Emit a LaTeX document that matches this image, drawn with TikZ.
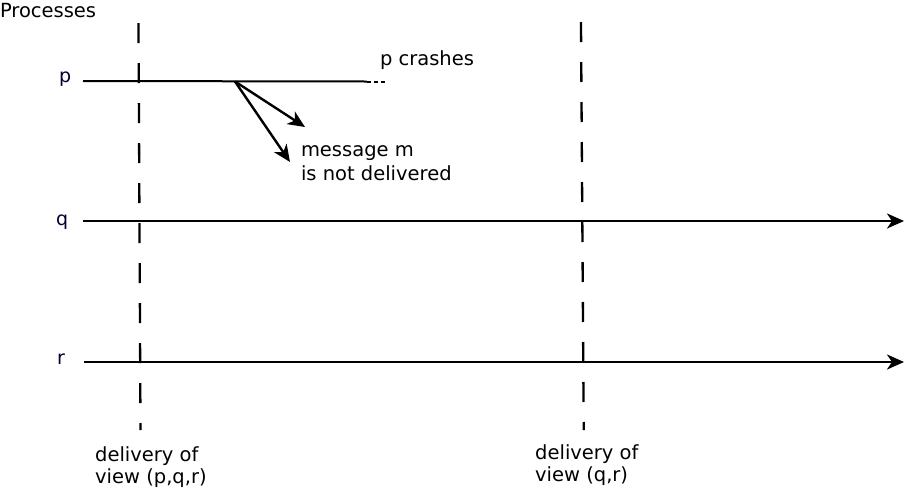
\documentclass[tikz,border=0pt]{standalone}
\usepackage{fontspec}
\setmainfont{DejaVu Sans}
\usetikzlibrary{arrows.meta}
\begin{document}
\begin{tikzpicture}[x=1pt,y=-1pt,
  lbl/.style={anchor=base west,inner sep=0pt,outer sep=0pt,font=\fontsize{19.5}{24}\selectfont},
  proc/.style={anchor=base west,inner sep=0pt,font=\fontsize{19}{24}\selectfont,text={rgb,255:red,0;green,0;blue,50}},
  bot/.style={anchor=base west,inner sep=0pt,align=left,font=\fontsize{19.5}{21.5}\selectfont},
  timeline/.style={line width=2.6pt,-{Stealth[length=17pt,width=15pt,inset=5pt]}},
  msg/.style={line width=2.4pt,-{Stealth[length=17pt,width=15pt,inset=5pt]}},
  viewline/.style={line width=2.3pt,dash pattern=on 20pt off 20pt}]
\useasboundingbox (0,0) rectangle (905,491);
% labels
\node[lbl] (title) at (0,17) {Processes};
\node[proc] (lp) at (59,82) {p};
\node[proc] (lq) at (56,225) {q};
\node[proc] (lr) at (57,364) {r};
\node[lbl] (crash) at (380,65) {p crashes};
\node[lbl,align=left] (msgtxt) at (301,180) {message m\\is not delivered};
\node[bot] (d1) at (95,483) {delivery of\\view (p,q,r)};
\node[bot] (d2) at (535,481) {delivery of\\view (q,r)};
% coordinates
\coordinate (ps) at (83,81);
\coordinate (pe) at (367,81.5);
\coordinate (pd) at (386,81.5);
\coordinate (send) at (235,81.5);
\coordinate (m1) at (305,127);
\coordinate (m2) at (290,162);
\coordinate (qs) at (83,221);
\coordinate (qe) at (904,221);
\coordinate (rs) at (84,362);
\coordinate (re) at (904,362);
\coordinate (v1t) at (138.5,23);
\coordinate (v1b) at (140.5,430);
\coordinate (v2t) at (581,22);
\coordinate (v2b) at (583.7,430);
% process lines
\draw[line width=2pt] (ps) -- (pe);
\draw[line width=2pt,dash pattern=on 4pt off 3pt] (pe) -- (pd);
\draw[timeline] (qs) -- (qe);
\draw[timeline] (rs) -- (re);
% message arrows
\draw[msg] (send) -- (m1);
\draw[msg] (send) -- (m2);
% view delivery lines
\draw[viewline] (v1t) -- (v1b);
\draw[viewline] (v2t) -- (v2b);
\end{tikzpicture}
\end{document}
